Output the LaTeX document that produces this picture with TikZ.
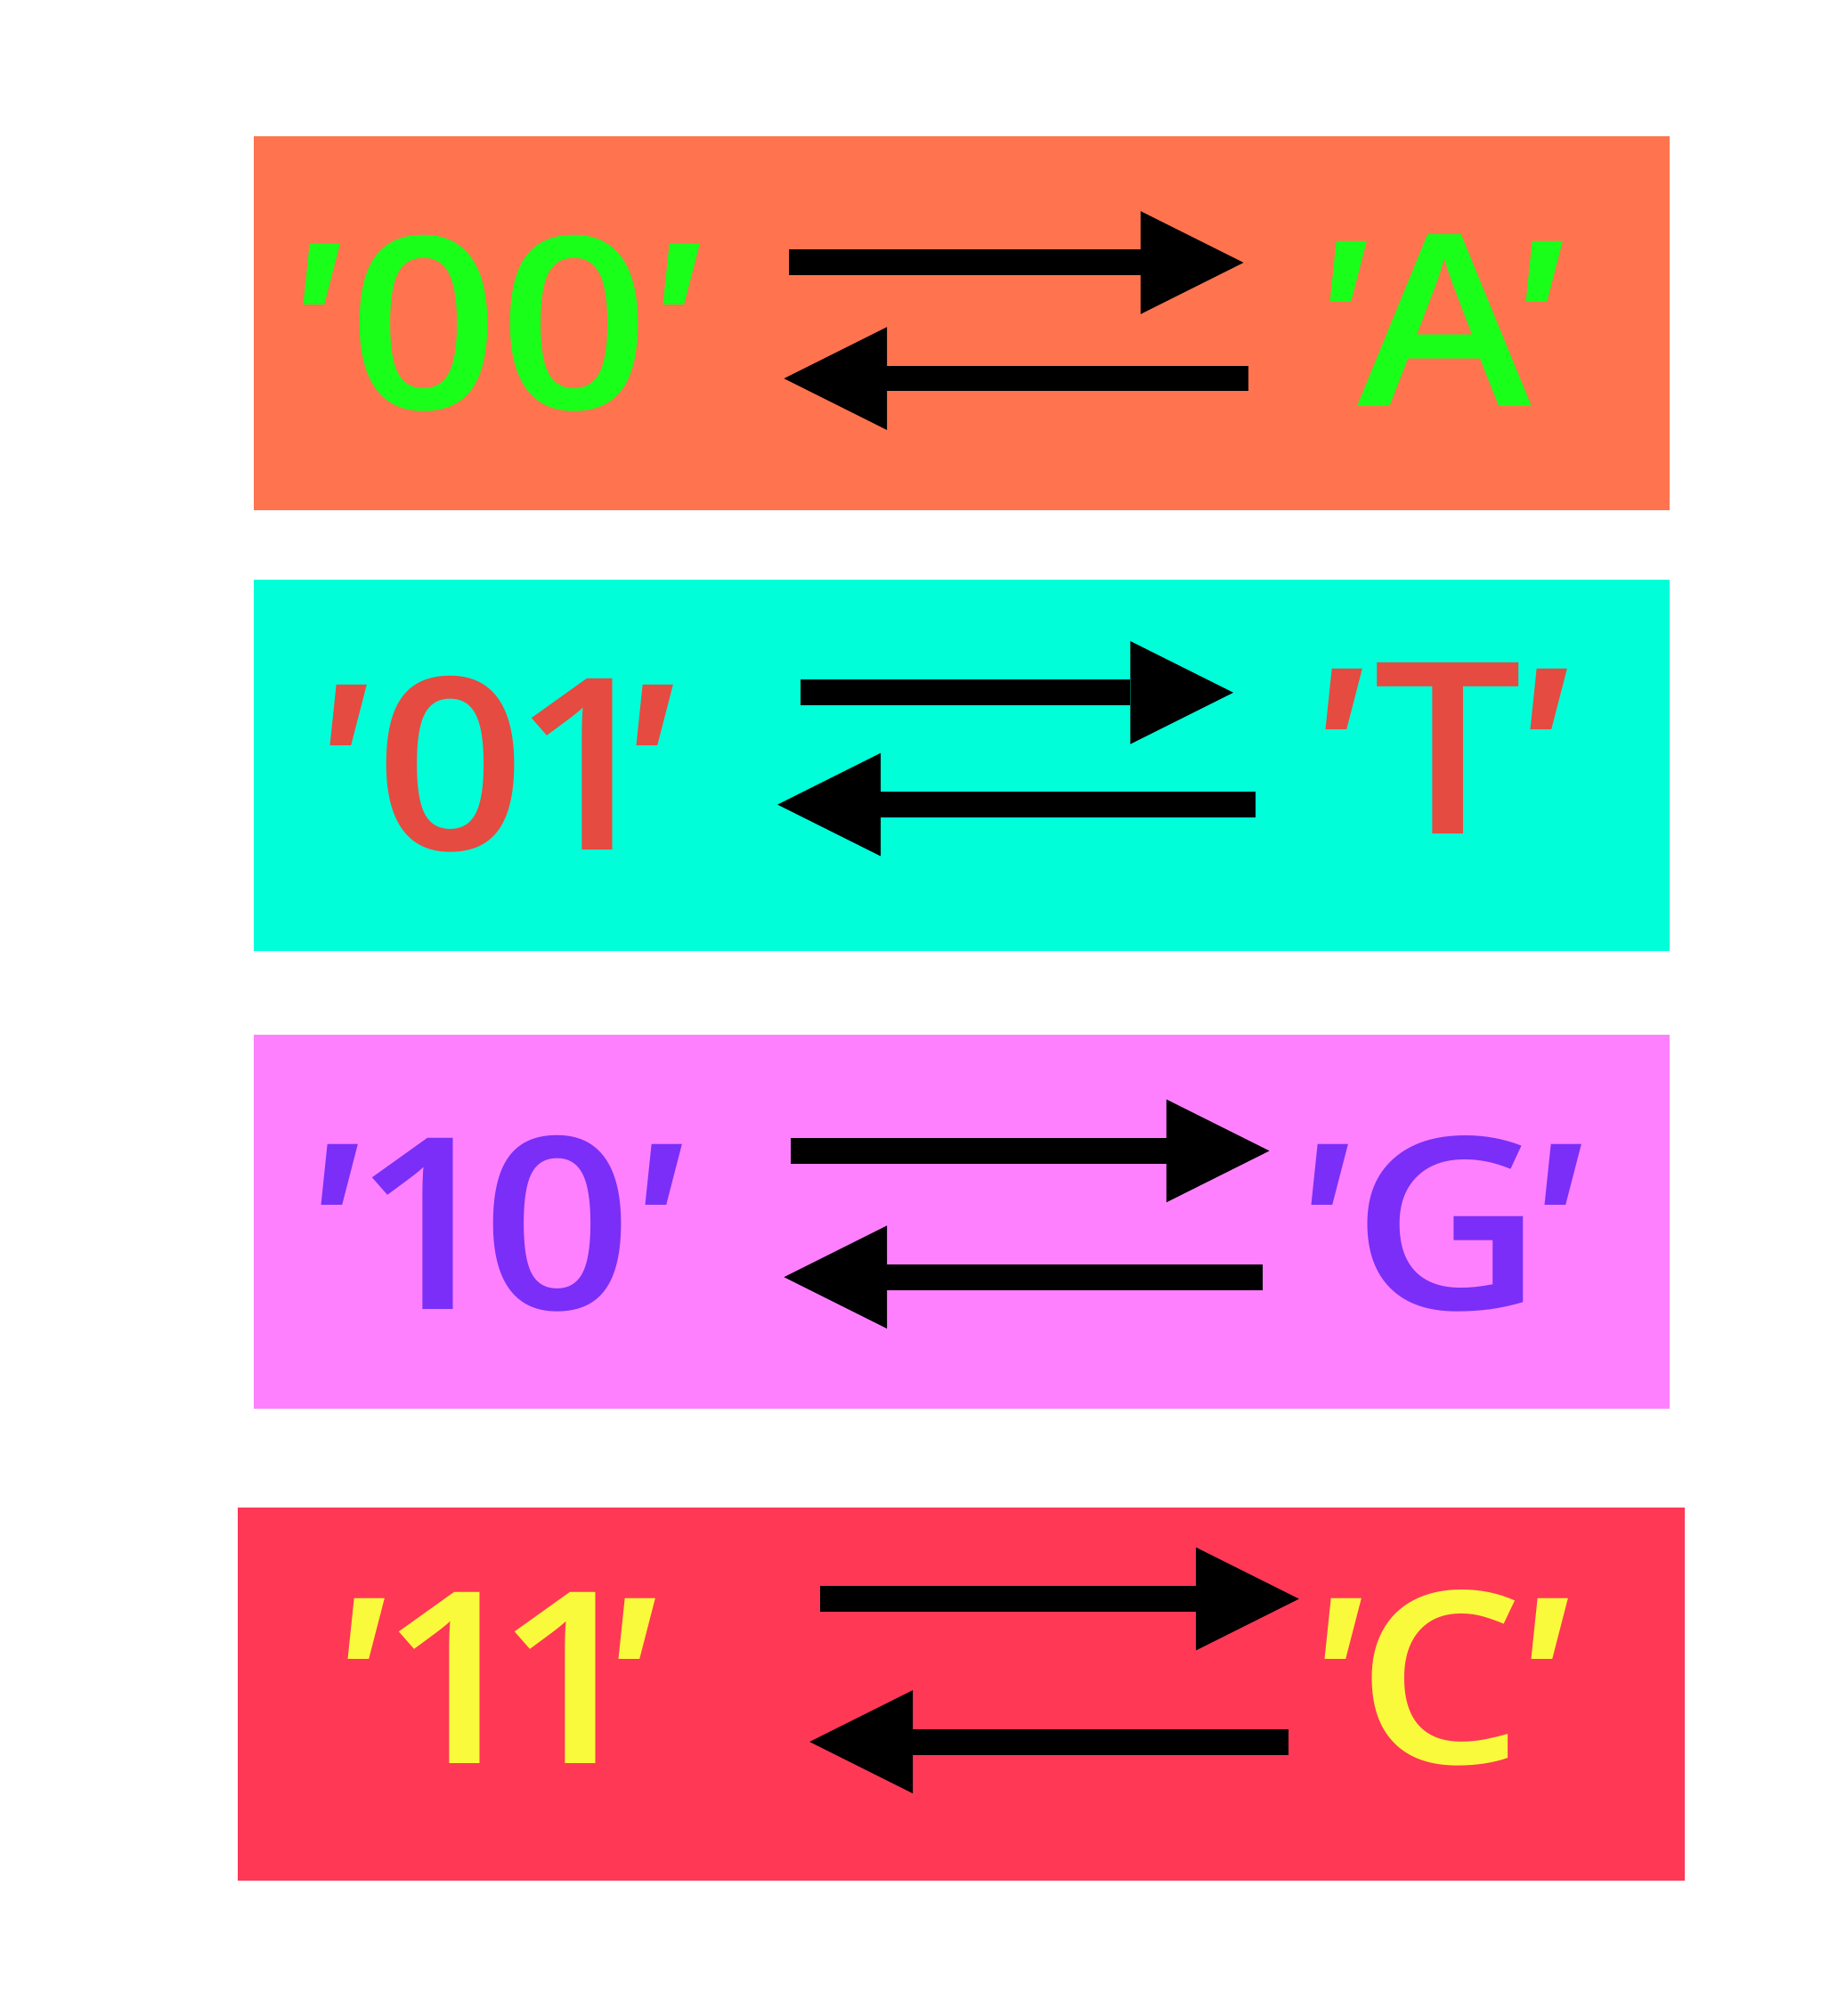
\documentclass[tikz,border=0pt]{standalone}
\usepackage{fontspec}
\IfFontExistsTF{Open Sans SemiBold}{\setmainfont{Open Sans SemiBold}[FakeStretch=1.1,Numbers=Proportional]}{%
  \IfFontExistsTF{Open Sans Semibold}{\setmainfont{Open Sans Semibold}[FakeStretch=1.1,Numbers=Proportional]}{\setmainfont{texgyreheros-bold.otf}}}
\newfontfamily\primefont{Liberation Sans}[FakeStretch=0.85]
\usetikzlibrary{arrows.meta}
\definecolor{boxorange}{RGB}{255,116,79}
\definecolor{boxcyan}{RGB}{0,255,217}
\definecolor{boxpink}{RGB}{255,128,255}
\definecolor{boxred}{RGB}{255,56,86}
\definecolor{txtgreen}{RGB}{26,255,26}
\definecolor{txtred}{RGB}{229,75,64}
\definecolor{txtpurple}{RGB}{122,46,247}
\definecolor{txtyellow}{RGB}{250,250,60}
\newcommand{\qm}{{\primefont\bfseries\fontsize{53}{60}\selectfont ′}}
\tikzset{
  code/.style={font=\fontsize{53}{60}\selectfont, anchor=base, inner sep=0pt},
  conv/.style={line width=0.2cm, -{Triangle[length=0.8cm,width=0.8cm,line width=0pt]}}
}
\begin{document}
\begin{tikzpicture}
    \useasboundingbox[fill=white] (0,0) rectangle (14.14,15.66);
    \fill[boxorange] (1.97,11.70) rectangle (12.97,14.60);
    \fill[boxcyan] (1.97,8.27) rectangle (12.97,11.16);
    \fill[boxpink] (1.97,4.72) rectangle (12.97,7.62);
    \fill[boxred] (1.85,1.05) rectangle (13.09,3.95);
    \node[code, text=txtgreen] (bitsA) at (3.88,12.48) {\qm\kern1pt00\kern1pt\qm};
    \node[code, text=txtgreen] (baseA) at (11.22,12.50) {\qm\kern-3pt A\kern-3pt\qm};
    \node[code, text=txtred] (bitsT) at (3.88,9.06) {\qm\kern1pt01\kern-3pt\qm};
    \node[code, text=txtred] (baseT) at (11.22,9.18) {\qm\kern1.5pt T\qm};
    \node[code, text=txtpurple] (bitsG) at (3.88,5.49) {\qm\kern1pt10\kern1pt\qm};
    \node[code, text=txtpurple] (baseG) at (11.22,5.49) {\qm G\kern-1.5pt\qm};
    \node[code, text=txtyellow] (bitsC) at (3.88,1.96) {\qm\kern1pt11\kern-3pt\qm};
    \node[code, text=txtyellow] (baseC) at (11.22,1.96) {\qm\kern-2pt C\qm};
    \coordinate (encA1) at (6.13,13.62);
    \coordinate (encA2) at (9.66,13.62);
    \coordinate (decA1) at (9.70,12.72);
    \coordinate (decA2) at (6.09,12.72);
    \coordinate (encT1) at (6.22,10.28);
    \coordinate (encT2) at (9.58,10.28);
    \coordinate (decT1) at (9.75,9.41);
    \coordinate (decT2) at (6.04,9.41);
    \coordinate (encG1) at (6.14,6.72);
    \coordinate (encG2) at (9.86,6.72);
    \coordinate (decG1) at (9.81,5.74);
    \coordinate (decG2) at (6.09,5.74);
    \coordinate (encC1) at (6.37,3.24);
    \coordinate (encC2) at (10.09,3.24);
    \coordinate (decC1) at (10.01,2.13);
    \coordinate (decC2) at (6.29,2.13);
    \draw[conv] (encA1) -- (encA2);
    \draw[conv] (decA1) -- (decA2);
    \draw[conv] (encT1) -- (encT2);
    \draw[conv] (decT1) -- (decT2);
    \draw[conv] (encG1) -- (encG2);
    \draw[conv] (decG1) -- (decG2);
    \draw[conv] (encC1) -- (encC2);
    \draw[conv] (decC1) -- (decC2);
  \end{tikzpicture}
\end{document}
